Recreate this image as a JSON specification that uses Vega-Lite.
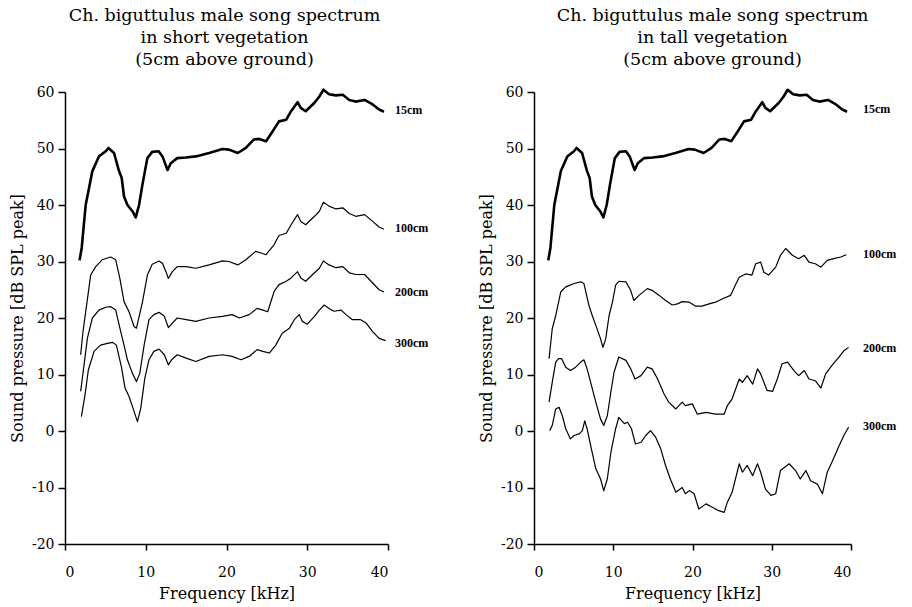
{
  "$schema": "https://vega.github.io/schema/vega-lite/v6.json",
  "background": "white",
  "padding": {"left": 9, "top": 6, "right": 5, "bottom": 2},
  "bounds": "flush",
  "spacing": 146,
  "config": {
    "view": {"stroke": null},
    "font": "DejaVu Serif",
    "axis": {
      "domainColor": "#000", "tickColor": "#000", "labelColor": "#000", "titleColor": "#000",
      "domainWidth": 1.5, "tickWidth": 1.5, "grid": false,
      "labelFont": "DejaVu Serif", "titleFont": "DejaVu Serif",
      "labelFontSize": 14, "titleFontSize": 16, "titleFontWeight": "normal",
      "labelExpr": "(datum.value < 0 ? '-' : '') + abs(datum.value)"
    },
    "axisX": {"tickSize": 6, "labelPadding": 15, "titlePadding": 6},
    "axisY": {"tickSize": 7, "labelPadding": 4, "titlePadding": 6},
    "title": {"font": "DejaVu Serif", "fontSize": 17.5, "fontWeight": "normal", "color": "#000", "lineHeight": 22, "anchor": "middle", "offset": 17}
  },
  "datasets": {
    "short": [
      {"s":"15cm","f":1.8,"db":30.2},{"s":"15cm","f":2.07,"db":32.4},{"s":"15cm","f":2.56,"db":40.0},{"s":"15cm","f":3.39,"db":46.0},{"s":"15cm","f":4.2,"db":48.6},{"s":"15cm","f":5.04,"db":49.5},{"s":"15cm","f":5.37,"db":50.1},{"s":"15cm","f":6.07,"db":49.2},{"s":"15cm","f":6.69,"db":46.0},{"s":"15cm","f":7.02,"db":44.8},{"s":"15cm","f":7.31,"db":41.5},{"s":"15cm","f":7.73,"db":40.0},{"s":"15cm","f":8.35,"db":38.9},{"s":"15cm","f":8.76,"db":37.8},{"s":"15cm","f":9.17,"db":40.0},{"s":"15cm","f":9.59,"db":43.6},{"s":"15cm","f":10.2,"db":48.3},{"s":"15cm","f":10.8,"db":49.4},{"s":"15cm","f":11.6,"db":49.5},{"s":"15cm","f":12.07,"db":48.6},{"s":"15cm","f":12.7,"db":46.2},{"s":"15cm","f":13.1,"db":47.4},{"s":"15cm","f":13.9,"db":48.3},{"s":"15cm","f":14.96,"db":48.4},{"s":"15cm","f":16.2,"db":48.6},{"s":"15cm","f":17.85,"db":49.2},{"s":"15cm","f":19.5,"db":49.9},{"s":"15cm","f":20.3,"db":49.8},{"s":"15cm","f":21.4,"db":49.2},{"s":"15cm","f":22.4,"db":50.1},{"s":"15cm","f":23.4,"db":51.6},{"s":"15cm","f":24.05,"db":51.7},{"s":"15cm","f":24.9,"db":51.3},{"s":"15cm","f":25.7,"db":53.0},{"s":"15cm","f":26.5,"db":54.8},{"s":"15cm","f":27.4,"db":55.1},{"s":"15cm","f":28.0,"db":56.6},{"s":"15cm","f":28.8,"db":58.2},{"s":"15cm","f":29.2,"db":57.2},{"s":"15cm","f":29.8,"db":56.6},{"s":"15cm","f":30.9,"db":58.1},{"s":"15cm","f":31.5,"db":59.2},{"s":"15cm","f":32.0,"db":60.4},{"s":"15cm","f":32.7,"db":59.6},{"s":"15cm","f":33.55,"db":59.4},{"s":"15cm","f":34.4,"db":59.5},{"s":"15cm","f":35.2,"db":58.6},{"s":"15cm","f":36.0,"db":58.3},{"s":"15cm","f":37.1,"db":58.6},{"s":"15cm","f":38.1,"db":57.8},{"s":"15cm","f":38.9,"db":56.9},{"s":"15cm","f":39.5,"db":56.5},
      {"s":"100cm","f":1.94,"db":13.5},{"s":"100cm","f":2.23,"db":17.6},{"s":"100cm","f":3.18,"db":27.6},{"s":"100cm","f":3.8,"db":29.1},{"s":"100cm","f":4.6,"db":30.3},{"s":"100cm","f":5.66,"db":30.8},{"s":"100cm","f":6.28,"db":30.3},{"s":"100cm","f":6.78,"db":27.1},{"s":"100cm","f":7.31,"db":22.9},{"s":"100cm","f":7.93,"db":21.1},{"s":"100cm","f":8.55,"db":18.5},{"s":"100cm","f":8.85,"db":18.2},{"s":"100cm","f":9.59,"db":22.8},{"s":"100cm","f":10.2,"db":27.6},{"s":"100cm","f":10.8,"db":29.5},{"s":"100cm","f":11.65,"db":30.1},{"s":"100cm","f":12.07,"db":29.7},{"s":"100cm","f":12.5,"db":28.2},{"s":"100cm","f":12.8,"db":27.0},{"s":"100cm","f":13.3,"db":28.2},{"s":"100cm","f":13.9,"db":29.1},{"s":"100cm","f":15.0,"db":29.1},{"s":"100cm","f":16.2,"db":28.8},{"s":"100cm","f":17.85,"db":29.4},{"s":"100cm","f":19.5,"db":30.1},{"s":"100cm","f":20.3,"db":30.0},{"s":"100cm","f":21.4,"db":29.4},{"s":"100cm","f":22.4,"db":30.3},{"s":"100cm","f":23.6,"db":31.8},{"s":"100cm","f":24.3,"db":31.5},{"s":"100cm","f":24.9,"db":31.2},{"s":"100cm","f":25.9,"db":33.0},{"s":"100cm","f":26.5,"db":34.6},{"s":"100cm","f":27.4,"db":35.0},{"s":"100cm","f":28.0,"db":36.5},{"s":"100cm","f":28.8,"db":38.3},{"s":"100cm","f":29.2,"db":37.1},{"s":"100cm","f":29.8,"db":36.5},{"s":"100cm","f":30.9,"db":38.0},{"s":"100cm","f":31.5,"db":38.9},{"s":"100cm","f":32.0,"db":40.5},{"s":"100cm","f":32.7,"db":39.8},{"s":"100cm","f":33.55,"db":39.3},{"s":"100cm","f":34.4,"db":39.5},{"s":"100cm","f":35.2,"db":38.5},{"s":"100cm","f":36.0,"db":38.0},{"s":"100cm","f":37.1,"db":38.3},{"s":"100cm","f":38.1,"db":37.1},{"s":"100cm","f":38.9,"db":36.1},{"s":"100cm","f":39.5,"db":35.7},
      {"s":"200cm","f":1.94,"db":7.0},{"s":"200cm","f":2.36,"db":11.7},{"s":"200cm","f":2.77,"db":16.4},{"s":"200cm","f":3.39,"db":20.0},{"s":"200cm","f":4.2,"db":21.4},{"s":"200cm","f":5.04,"db":21.9},{"s":"200cm","f":5.66,"db":22.0},{"s":"200cm","f":6.28,"db":21.4},{"s":"200cm","f":6.9,"db":17.6},{"s":"200cm","f":7.31,"db":15.2},{"s":"200cm","f":7.73,"db":12.6},{"s":"200cm","f":8.35,"db":10.2},{"s":"200cm","f":8.85,"db":8.75},{"s":"200cm","f":9.26,"db":10.2},{"s":"200cm","f":9.8,"db":15.2},{"s":"200cm","f":10.4,"db":19.7},{"s":"200cm","f":11.0,"db":20.6},{"s":"200cm","f":11.65,"db":21.0},{"s":"200cm","f":12.3,"db":20.3},{"s":"200cm","f":12.8,"db":18.3},{"s":"200cm","f":13.3,"db":19.1},{"s":"200cm","f":13.9,"db":20.0},{"s":"200cm","f":15.0,"db":19.7},{"s":"200cm","f":16.2,"db":19.4},{"s":"200cm","f":17.85,"db":20.0},{"s":"200cm","f":19.5,"db":20.3},{"s":"200cm","f":20.7,"db":20.6},{"s":"200cm","f":21.6,"db":20.0},{"s":"200cm","f":22.8,"db":20.6},{"s":"200cm","f":23.8,"db":21.7},{"s":"200cm","f":24.5,"db":21.4},{"s":"200cm","f":25.1,"db":21.1},{"s":"200cm","f":25.9,"db":24.7},{"s":"200cm","f":26.5,"db":25.9},{"s":"200cm","f":27.4,"db":26.5},{"s":"200cm","f":28.0,"db":27.1},{"s":"200cm","f":28.8,"db":28.2},{"s":"200cm","f":29.2,"db":27.1},{"s":"200cm","f":29.8,"db":26.5},{"s":"200cm","f":30.9,"db":28.0},{"s":"200cm","f":31.5,"db":28.8},{"s":"200cm","f":32.0,"db":30.1},{"s":"200cm","f":32.7,"db":29.4},{"s":"200cm","f":33.55,"db":28.9},{"s":"200cm","f":34.4,"db":29.1},{"s":"200cm","f":35.2,"db":28.0},{"s":"200cm","f":36.0,"db":27.7},{"s":"200cm","f":37.1,"db":27.7},{"s":"200cm","f":38.1,"db":26.2},{"s":"200cm","f":38.9,"db":25.0},{"s":"200cm","f":39.5,"db":24.6},
      {"s":"300cm","f":2.03,"db":2.55},{"s":"300cm","f":2.48,"db":6.4},{"s":"300cm","f":2.89,"db":10.8},{"s":"300cm","f":3.6,"db":14.1},{"s":"300cm","f":4.4,"db":15.2},{"s":"300cm","f":5.25,"db":15.5},{"s":"300cm","f":5.87,"db":15.7},{"s":"300cm","f":6.36,"db":15.2},{"s":"300cm","f":6.98,"db":11.4},{"s":"300cm","f":7.44,"db":7.6},{"s":"300cm","f":7.93,"db":6.1},{"s":"300cm","f":8.43,"db":4.0},{"s":"300cm","f":8.97,"db":1.67},{"s":"300cm","f":9.38,"db":4.0},{"s":"300cm","f":9.88,"db":9.3},{"s":"300cm","f":10.4,"db":12.6},{"s":"300cm","f":11.0,"db":14.1},{"s":"300cm","f":11.65,"db":14.5},{"s":"300cm","f":12.3,"db":13.5},{"s":"300cm","f":12.8,"db":11.7},{"s":"300cm","f":13.2,"db":12.6},{"s":"300cm","f":13.9,"db":13.5},{"s":"300cm","f":15.0,"db":12.9},{"s":"300cm","f":16.2,"db":12.3},{"s":"300cm","f":17.85,"db":13.2},{"s":"300cm","f":19.5,"db":13.5},{"s":"300cm","f":20.7,"db":13.2},{"s":"300cm","f":21.8,"db":12.6},{"s":"300cm","f":22.8,"db":13.2},{"s":"300cm","f":23.8,"db":14.4},{"s":"300cm","f":24.5,"db":14.1},{"s":"300cm","f":25.3,"db":13.8},{"s":"300cm","f":26.1,"db":15.2},{"s":"300cm","f":26.9,"db":17.3},{"s":"300cm","f":27.8,"db":18.2},{"s":"300cm","f":28.4,"db":19.7},{"s":"300cm","f":29.0,"db":20.6},{"s":"300cm","f":29.4,"db":19.4},{"s":"300cm","f":30.0,"db":18.9},{"s":"300cm","f":30.9,"db":20.3},{"s":"300cm","f":31.5,"db":21.4},{"s":"300cm","f":32.1,"db":22.3},{"s":"300cm","f":32.7,"db":21.7},{"s":"300cm","f":33.3,"db":21.2},{"s":"300cm","f":34.2,"db":21.4},{"s":"300cm","f":34.8,"db":20.6},{"s":"300cm","f":35.6,"db":19.7},{"s":"300cm","f":36.6,"db":19.7},{"s":"300cm","f":37.3,"db":19.1},{"s":"300cm","f":38.1,"db":17.6},{"s":"300cm","f":38.9,"db":16.4},{"s":"300cm","f":39.7,"db":16.0}
    ],
    "tall": [
      {"s":"15cm","f":1.8,"db":30.2},{"s":"15cm","f":2.07,"db":32.4},{"s":"15cm","f":2.56,"db":40.0},{"s":"15cm","f":3.39,"db":46.0},{"s":"15cm","f":4.2,"db":48.6},{"s":"15cm","f":5.04,"db":49.5},{"s":"15cm","f":5.37,"db":50.1},{"s":"15cm","f":6.07,"db":49.2},{"s":"15cm","f":6.69,"db":46.0},{"s":"15cm","f":7.02,"db":44.8},{"s":"15cm","f":7.31,"db":41.5},{"s":"15cm","f":7.73,"db":40.0},{"s":"15cm","f":8.35,"db":38.9},{"s":"15cm","f":8.76,"db":37.8},{"s":"15cm","f":9.17,"db":40.0},{"s":"15cm","f":9.59,"db":43.6},{"s":"15cm","f":10.2,"db":48.3},{"s":"15cm","f":10.8,"db":49.4},{"s":"15cm","f":11.6,"db":49.5},{"s":"15cm","f":12.07,"db":48.6},{"s":"15cm","f":12.7,"db":46.2},{"s":"15cm","f":13.1,"db":47.4},{"s":"15cm","f":13.9,"db":48.3},{"s":"15cm","f":14.96,"db":48.4},{"s":"15cm","f":16.2,"db":48.6},{"s":"15cm","f":17.85,"db":49.2},{"s":"15cm","f":19.5,"db":49.9},{"s":"15cm","f":20.3,"db":49.8},{"s":"15cm","f":21.4,"db":49.2},{"s":"15cm","f":22.4,"db":50.1},{"s":"15cm","f":23.4,"db":51.6},{"s":"15cm","f":24.05,"db":51.7},{"s":"15cm","f":24.9,"db":51.3},{"s":"15cm","f":25.7,"db":53.0},{"s":"15cm","f":26.5,"db":54.8},{"s":"15cm","f":27.4,"db":55.1},{"s":"15cm","f":28.0,"db":56.6},{"s":"15cm","f":28.8,"db":58.2},{"s":"15cm","f":29.2,"db":57.2},{"s":"15cm","f":29.8,"db":56.6},{"s":"15cm","f":30.9,"db":58.1},{"s":"15cm","f":31.5,"db":59.2},{"s":"15cm","f":32.0,"db":60.4},{"s":"15cm","f":32.7,"db":59.6},{"s":"15cm","f":33.55,"db":59.4},{"s":"15cm","f":34.4,"db":59.5},{"s":"15cm","f":35.2,"db":58.6},{"s":"15cm","f":36.0,"db":58.3},{"s":"15cm","f":37.1,"db":58.6},{"s":"15cm","f":38.1,"db":57.8},{"s":"15cm","f":38.9,"db":56.9},{"s":"15cm","f":39.5,"db":56.5},
      {"s":"100cm","f":1.9,"db":12.8},{"s":"100cm","f":2.3,"db":18.1},{"s":"100cm","f":2.74,"db":20.4},{"s":"100cm","f":3.37,"db":24.6},{"s":"100cm","f":4.0,"db":25.5},{"s":"100cm","f":5.05,"db":26.1},{"s":"100cm","f":5.9,"db":26.4},{"s":"100cm","f":6.3,"db":26.1},{"s":"100cm","f":6.94,"db":22.2},{"s":"100cm","f":7.36,"db":20.4},{"s":"100cm","f":7.8,"db":18.7},{"s":"100cm","f":8.4,"db":16.3},{"s":"100cm","f":8.7,"db":14.8},{"s":"100cm","f":9.05,"db":16.3},{"s":"100cm","f":9.47,"db":20.4},{"s":"100cm","f":9.9,"db":22.8},{"s":"100cm","f":10.3,"db":25.8},{"s":"100cm","f":10.7,"db":26.5},{"s":"100cm","f":11.6,"db":26.4},{"s":"100cm","f":12.2,"db":24.9},{"s":"100cm","f":12.6,"db":23.1},{"s":"100cm","f":13.25,"db":24.0},{"s":"100cm","f":14.3,"db":25.2},{"s":"100cm","f":14.9,"db":24.9},{"s":"100cm","f":15.8,"db":24.0},{"s":"100cm","f":16.6,"db":23.1},{"s":"100cm","f":17.45,"db":22.3},{"s":"100cm","f":18.1,"db":22.5},{"s":"100cm","f":18.7,"db":22.9},{"s":"100cm","f":19.6,"db":22.8},{"s":"100cm","f":20.4,"db":22.1},{"s":"100cm","f":21.2,"db":22.1},{"s":"100cm","f":22.1,"db":22.5},{"s":"100cm","f":22.9,"db":22.8},{"s":"100cm","f":23.8,"db":23.4},{"s":"100cm","f":24.8,"db":24.0},{"s":"100cm","f":25.4,"db":25.8},{"s":"100cm","f":25.9,"db":27.2},{"s":"100cm","f":26.7,"db":27.8},{"s":"100cm","f":27.5,"db":27.6},{"s":"100cm","f":27.97,"db":29.6},{"s":"100cm","f":28.6,"db":29.9},{"s":"100cm","f":29.0,"db":28.1},{"s":"100cm","f":29.6,"db":27.6},{"s":"100cm","f":30.5,"db":29.0},{"s":"100cm","f":31.1,"db":31.1},{"s":"100cm","f":31.75,"db":32.3},{"s":"100cm","f":32.6,"db":31.1},{"s":"100cm","f":33.4,"db":30.5},{"s":"100cm","f":34.1,"db":31.1},{"s":"100cm","f":34.7,"db":29.9},{"s":"100cm","f":35.5,"db":29.6},{"s":"100cm","f":36.2,"db":29.0},{"s":"100cm","f":37.0,"db":30.2},{"s":"100cm","f":37.8,"db":30.5},{"s":"100cm","f":38.7,"db":30.8},{"s":"100cm","f":39.4,"db":31.2},
      {"s":"200cm","f":1.9,"db":5.1},{"s":"200cm","f":2.3,"db":8.6},{"s":"200cm","f":2.74,"db":12.2},{"s":"200cm","f":3.1,"db":12.8},{"s":"200cm","f":3.5,"db":12.8},{"s":"200cm","f":4.0,"db":11.3},{"s":"200cm","f":4.6,"db":10.7},{"s":"200cm","f":5.25,"db":11.3},{"s":"200cm","f":5.9,"db":12.2},{"s":"200cm","f":6.3,"db":12.6},{"s":"200cm","f":6.7,"db":11.0},{"s":"200cm","f":7.15,"db":8.6},{"s":"200cm","f":7.8,"db":5.1},{"s":"200cm","f":8.4,"db":2.1},{"s":"200cm","f":8.8,"db":0.96},{"s":"200cm","f":9.25,"db":2.7},{"s":"200cm","f":9.7,"db":6.9},{"s":"200cm","f":10.1,"db":10.4},{"s":"200cm","f":10.7,"db":13.1},{"s":"200cm","f":11.6,"db":12.5},{"s":"200cm","f":12.2,"db":11.0},{"s":"200cm","f":12.75,"db":9.2},{"s":"200cm","f":13.5,"db":9.8},{"s":"200cm","f":14.3,"db":11.3},{"s":"200cm","f":14.9,"db":11.0},{"s":"200cm","f":15.6,"db":9.2},{"s":"200cm","f":16.4,"db":6.6},{"s":"200cm","f":17.0,"db":5.1},{"s":"200cm","f":17.9,"db":3.9},{"s":"200cm","f":18.7,"db":5.1},{"s":"200cm","f":19.1,"db":4.5},{"s":"200cm","f":19.98,"db":4.8},{"s":"200cm","f":20.6,"db":3.0},{"s":"200cm","f":21.7,"db":3.3},{"s":"200cm","f":22.9,"db":3.0},{"s":"200cm","f":24.0,"db":3.0},{"s":"200cm","f":24.4,"db":4.5},{"s":"200cm","f":25.0,"db":5.7},{"s":"200cm","f":25.9,"db":9.2},{"s":"200cm","f":26.3,"db":8.6},{"s":"200cm","f":26.9,"db":9.8},{"s":"200cm","f":27.6,"db":8.3},{"s":"200cm","f":28.2,"db":11.0},{"s":"200cm","f":28.6,"db":10.1},{"s":"200cm","f":29.4,"db":7.2},{"s":"200cm","f":30.1,"db":7.0},{"s":"200cm","f":30.7,"db":9.2},{"s":"200cm","f":31.3,"db":11.9},{"s":"200cm","f":32.0,"db":12.2},{"s":"200cm","f":32.8,"db":10.7},{"s":"200cm","f":33.4,"db":9.8},{"s":"200cm","f":34.1,"db":10.7},{"s":"200cm","f":34.7,"db":9.2},{"s":"200cm","f":35.5,"db":8.9},{"s":"200cm","f":36.2,"db":7.6},{"s":"200cm","f":36.8,"db":10.1},{"s":"200cm","f":37.6,"db":11.6},{"s":"200cm","f":38.5,"db":13.1},{"s":"200cm","f":39.1,"db":14.2},{"s":"200cm","f":39.7,"db":14.8},
      {"s":"300cm","f":1.98,"db":0.07},{"s":"300cm","f":2.3,"db":0.96},{"s":"300cm","f":2.74,"db":3.9},{"s":"300cm","f":3.16,"db":4.2},{"s":"300cm","f":3.57,"db":2.7},{"s":"300cm","f":4.0,"db":0.4},{"s":"300cm","f":4.6,"db":-1.4},{"s":"300cm","f":5.05,"db":-0.8},{"s":"300cm","f":5.7,"db":-0.5},{"s":"300cm","f":6.1,"db":0.07},{"s":"300cm","f":6.4,"db":1.8},{"s":"300cm","f":6.7,"db":0.4},{"s":"300cm","f":7.15,"db":-2.6},{"s":"300cm","f":7.8,"db":-6.7},{"s":"300cm","f":8.4,"db":-8.5},{"s":"300cm","f":8.8,"db":-10.6},{"s":"300cm","f":9.25,"db":-8.5},{"s":"300cm","f":9.7,"db":-3.8},{"s":"300cm","f":10.3,"db":0.4},{"s":"300cm","f":10.7,"db":2.4},{"s":"300cm","f":11.4,"db":1.3},{"s":"300cm","f":11.8,"db":1.55},{"s":"300cm","f":12.3,"db":0.4},{"s":"300cm","f":12.8,"db":-2.3},{"s":"300cm","f":13.5,"db":-2.0},{"s":"300cm","f":14.1,"db":-0.8},{"s":"300cm","f":14.7,"db":0.07},{"s":"300cm","f":15.35,"db":-1.1},{"s":"300cm","f":16.0,"db":-3.2},{"s":"300cm","f":16.6,"db":-6.1},{"s":"300cm","f":17.2,"db":-8.5},{"s":"300cm","f":17.9,"db":-10.85},{"s":"300cm","f":18.7,"db":-10.0},{"s":"300cm","f":19.1,"db":-11.1},{"s":"300cm","f":19.6,"db":-10.55},{"s":"300cm","f":20.2,"db":-11.1},{"s":"300cm","f":20.8,"db":-13.8},{"s":"300cm","f":21.7,"db":-12.9},{"s":"300cm","f":22.5,"db":-13.5},{"s":"300cm","f":23.3,"db":-14.1},{"s":"300cm","f":24.0,"db":-14.4},{"s":"300cm","f":24.4,"db":-12.6},{"s":"300cm","f":25.0,"db":-10.85},{"s":"300cm","f":25.9,"db":-5.8},{"s":"300cm","f":26.3,"db":-7.3},{"s":"300cm","f":26.9,"db":-6.1},{"s":"300cm","f":27.6,"db":-7.9},{"s":"300cm","f":28.2,"db":-5.8},{"s":"300cm","f":28.6,"db":-7.3},{"s":"300cm","f":29.2,"db":-10.3},{"s":"300cm","f":29.9,"db":-11.4},{"s":"300cm","f":30.5,"db":-11.1},{"s":"300cm","f":31.1,"db":-7.0},{"s":"300cm","f":32.2,"db":-5.8},{"s":"300cm","f":33.0,"db":-7.0},{"s":"300cm","f":33.6,"db":-8.5},{"s":"300cm","f":34.3,"db":-7.0},{"s":"300cm","f":34.9,"db":-8.8},{"s":"300cm","f":35.75,"db":-9.4},{"s":"300cm","f":36.4,"db":-11.1},{"s":"300cm","f":37.0,"db":-7.3},{"s":"300cm","f":37.6,"db":-5.5},{"s":"300cm","f":38.5,"db":-2.6},{"s":"300cm","f":39.1,"db":-0.8},{"s":"300cm","f":39.7,"db":0.7}
    ],
    "shortLabels": [
      {"s":"15cm","db":56.8},{"s":"100cm","db":35.9},{"s":"200cm","db":24.6},{"s":"300cm","db":15.5}
    ],
    "tallLabels": [
      {"s":"15cm","db":57.0},{"s":"100cm","db":31.25},{"s":"200cm","db":14.65},{"s":"300cm","db":0.8}
    ]
  },
  "hconcat": [
    {
      "width": 323,
      "height": 452,
      "title": {"text": ["Ch. biguttulus male song spectrum", "in short vegetation", "(5cm above ground)"], "dx": -2},
      "layer": [
        {
          "data": {"name": "short"},
          "mark": {"type": "line", "color": "#000", "strokeJoin": "round"},
          "encoding": {
            "x": {"field": "f", "type": "quantitative", "scale": {"domain": [0, 40], "nice": false}, "axis": {"values": [0, 10, 20, 30, 40], "title": "Frequency [kHz]"}},
            "y": {"field": "db", "type": "quantitative", "scale": {"domain": [-20, 60], "nice": false}, "axis": {"values": [-20, -10, 0, 10, 20, 30, 40, 50, 60], "title": "Sound pressure [dB SPL peak]"}},
            "detail": {"field": "s"},
            "strokeWidth": {"condition": {"test": "datum.s === '15cm'", "value": 2.6}, "value": 1.2}
          }
        },
        {
          "data": {"name": "shortLabels"},
          "mark": {"type": "text", "font": "Liberation Serif", "fontSize": 12, "fontWeight": "bold", "align": "left", "baseline": "middle", "dx": 7, "color": "#000"},
          "encoding": {
            "x": {"datum": 40, "type": "quantitative"},
            "y": {"field": "db", "type": "quantitative"},
            "text": {"field": "s"}
          }
        }
      ]
    },
    {
      "width": 317,
      "height": 452,
      "title": {"text": ["Ch. biguttulus male song spectrum", "in tall vegetation", "(5cm above ground)"], "dx": 20},
      "layer": [
        {
          "data": {"name": "tall"},
          "mark": {"type": "line", "color": "#000", "strokeJoin": "round"},
          "encoding": {
            "x": {"field": "f", "type": "quantitative", "scale": {"domain": [0, 40], "nice": false}, "axis": {"values": [0, 10, 20, 30, 40], "title": "Frequency [kHz]"}},
            "y": {"field": "db", "type": "quantitative", "scale": {"domain": [-20, 60], "nice": false}, "axis": {"values": [-20, -10, 0, 10, 20, 30, 40, 50, 60], "title": "Sound pressure [dB SPL peak]"}},
            "detail": {"field": "s"},
            "strokeWidth": {"condition": {"test": "datum.s === '15cm'", "value": 2.6}, "value": 1.2}
          }
        },
        {
          "data": {"name": "tallLabels"},
          "mark": {"type": "text", "font": "Liberation Serif", "fontSize": 12, "fontWeight": "bold", "align": "left", "baseline": "middle", "dx": 12, "color": "#000"},
          "encoding": {
            "x": {"datum": 40, "type": "quantitative"},
            "y": {"field": "db", "type": "quantitative"},
            "text": {"field": "s"}
          }
        }
      ]
    }
  ]
}
